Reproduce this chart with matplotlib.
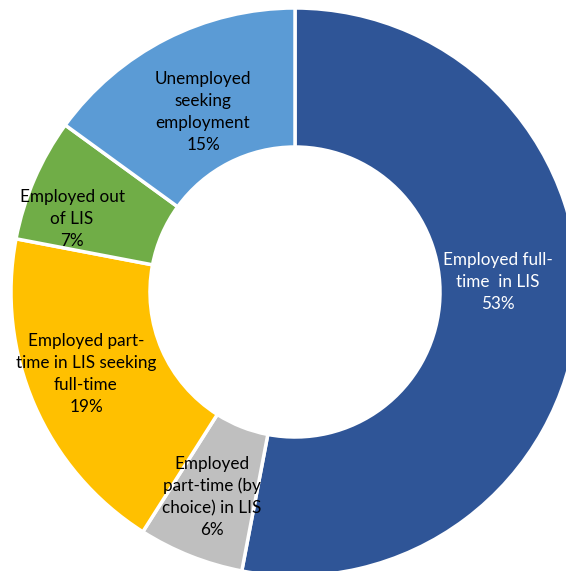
import numpy as np
import matplotlib.pyplot as plt

plt.rcParams['font.family'] = ['Lato', 'DejaVu Sans']

labels = ["Employed full-\ntime  in LIS", "Employed\npart-time (by\nchoice) in LIS",
          "Employed part-\ntime in LIS seeking\nfull-time", "Employed out\nof LIS",
          "Unemployed\nseeking\nemployment"]
shares = [53, 6, 19, 7, 15]
colors = ["#2F5597", "#BFBFBF", "#FFC000", "#70AD47", "#5B9BD5"]
text_colors = ["white", "black", "black", "black", "black"]
# label centres in pixel coordinates (x, y from bottom)
label_pos = [(498, 289), (212, 74), (86, 197), (72, 352), (203, 459)]

fig = plt.figure(figsize=(5.66, 5.71), dpi=100)
ax = fig.add_axes([0, 0, 1, 1])

wedges, _ = ax.pie(shares, colors=colors, startangle=90, counterclock=False,
                   center=(295, 279), radius=284,
                   wedgeprops=dict(width=139, edgecolor="white", linewidth=2.5))

for lab, s, c, (x, y) in zip(labels, shares, text_colors, label_pos):
    ax.text(x, y, f"{lab}\n{s}%", ha="center", va="center", color=c,
            fontsize=12.3, linespacing=1.45)

ax.set_xlim(0, 566)
ax.set_ylim(0, 571)
ax.set_aspect("equal")
ax.axis("off")

fig.savefig("out.png", dpi=100)
